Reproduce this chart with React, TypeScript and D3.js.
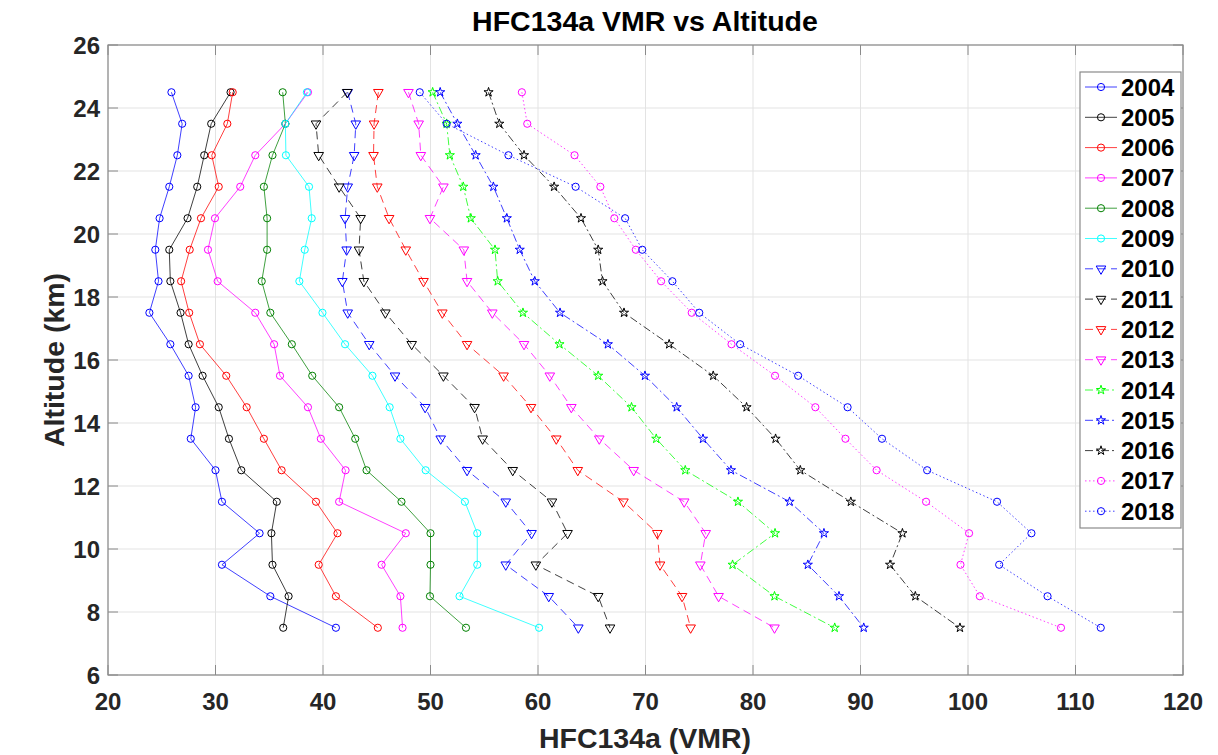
import React from "react";
import * as d3 from "d3";

const altitudes = [24.5, 23.5, 22.5, 21.5, 20.5, 19.5, 18.5, 17.5, 16.5, 15.5, 14.5, 13.5, 12.5, 11.5, 10.5, 9.5, 8.5, 7.5];

const years = ["2004", "2005", "2006", "2007", "2008", "2009", "2010", "2011", "2012", "2013", "2014", "2015", "2016", "2017", "2018"];

const v2004 = [25.9, 26.9, 26.45, 25.7, 24.8, 24.4, 24.7, 23.85, 25.8, 27.5, 28.15, 27.7, 30.0, 30.6, 34.1, 30.6, 35.1, 41.2];
const v2005 = [31.4, 29.6, 28.95, 28.3, 27.4, 25.7, 25.8, 26.75, 27.5, 28.8, 30.3, 31.25, 32.4, 35.7, 35.2, 35.3, 36.8, 36.3];
const v2006 = [31.6, 31.1, 29.65, 30.3, 28.65, 27.6, 26.8, 27.55, 28.55, 31.0, 32.9, 34.5, 36.15, 39.35, 41.35, 39.6, 41.2, 45.1];
const v2007 = [38.6, 36.5, 33.7, 32.3, 29.95, 29.3, 30.2, 33.7, 35.45, 36.0, 38.6, 39.8, 42.1, 41.5, 47.7, 45.45, 47.2, 47.4];
const v2008 = [36.25, 36.5, 35.3, 34.5, 34.8, 34.8, 34.3, 35.1, 37.1, 39.0, 41.5, 43.0, 44.05, 47.3, 50.0, 50.0, 49.95, 53.3];
const v2009 = [38.5, 36.5, 36.55, 38.7, 38.95, 38.3, 37.8, 39.95, 42.05, 44.6, 46.2, 47.2, 49.55, 53.2, 54.35, 54.35, 52.7, 60.1];
const v2010 = [42.3, 43.05, 42.9, 42.3, 42.05, 42.2, 41.8, 42.3, 44.3, 46.7, 49.5, 50.95, 53.4, 57.0, 59.4, 57.0, 61.0, 63.75];
const v2011 = [42.25, 39.35, 39.6, 41.5, 43.5, 43.35, 43.8, 45.8, 48.25, 51.2, 54.1, 54.85, 57.65, 61.3, 62.75, 59.8, 65.6, 66.7];
const v2012 = [45.15, 44.75, 44.7, 45.05, 46.15, 47.7, 49.35, 51.1, 53.4, 56.8, 59.35, 61.7, 63.7, 67.95, 71.1, 71.35, 73.4, 74.2];
const v2013 = [47.95, 48.9, 49.1, 51.2, 49.95, 53.1, 53.4, 55.75, 58.7, 61.1, 63.1, 65.7, 68.9, 73.6, 75.6, 75.1, 76.8, 82.0];
const v2014 = [50.2, 51.5, 51.8, 53.05, 53.75, 56.0, 56.25, 58.6, 62.0, 65.6, 68.7, 71.0, 73.7, 78.6, 82.05, 78.1, 82.0, 87.6];
const v2015 = [50.9, 52.5, 54.2, 55.85, 57.1, 58.3, 59.7, 62.05, 66.5, 69.95, 72.9, 75.35, 77.95, 83.4, 86.6, 85.1, 88.0, 90.3];
const v2016 = [55.4, 56.4, 58.7, 61.5, 64.0, 65.6, 66.0, 68.0, 72.2, 76.3, 79.4, 82.1, 84.4, 89.1, 93.9, 92.75, 95.1, 99.25];
const v2017 = [58.5, 59.0, 63.4, 65.8, 67.1, 69.1, 71.45, 74.3, 78.0, 82.05, 85.8, 88.6, 91.5, 96.1, 100.1, 99.3, 101.1, 108.65];
const v2018 = [49.0, 51.5, 57.25, 63.5, 68.1, 69.7, 72.5, 75.0, 78.8, 84.2, 88.8, 92.0, 96.2, 102.7, 105.9, 102.9, 107.4, 112.35];

const seriesValues = [v2004, v2005, v2006, v2007, v2008, v2009, v2010, v2011, v2012, v2013, v2014, v2015, v2016, v2017, v2018];

const colors = ["#0000ff", "#000000", "#ff0000", "#ff00ff", "#008000", "#00ffff", "#0000ff", "#000000", "#ff0000", "#ff00ff", "#00ff00", "#0000ff", "#000000", "#ff00ff", "#0000ff"];
const dashes = ["", "", "", "", "", "", "8,5", "8,5", "8,5", "8,5", "8,3,2,3", "8,3,2,3", "8,3,2,3", "1.5,2.5", "1.5,2.5"];
const markers = ["o", "o", "o", "o", "o", "o", "v", "v", "v", "v", "p", "p", "p", "o", "o"];

const xTicks = [20, 30, 40, 50, 60, 70, 80, 90, 100, 110, 120];
const yTicks = [6, 8, 10, 12, 14, 16, 18, 20, 22, 24, 26];

const W = 1218;
const H = 755;
const L = 108, R = 1183, T = 45, B = 675;
const FONT = "'Liberation Sans', Arial, sans-serif";

function Marker({ kind, x, y, color }: { kind: string; x: number; y: number; color: string }) {
  if (kind === "o") {
    return <circle cx={x} cy={y} r={3.6} fill="none" stroke={color} strokeWidth={1} />;
  }
  if (kind === "v") {
    const p = d3.symbol().type(d3.symbolTriangle).size(40)();
    return <path d={p || ""} transform={`translate(${x},${y}) rotate(180)`} fill="none" stroke={color} strokeWidth={1} />;
  }
  const p = d3.symbol().type(d3.symbolStar).size(26)();
  return <path d={p || ""} transform={`translate(${x},${y})`} fill="none" stroke={color} strokeWidth={1} />;
}

export default function App() {
  const x = d3.scaleLinear().domain([20, 120]).range([L, R]);
  const y = d3.scaleLinear().domain([6, 26]).range([B, T]);
  const line = d3
    .line<number>()
    .x((d) => x(d))
    .y((_, i) => y(altitudes[i]));

  const legX = 1080, legY = 72, legW = 101, legH = 456;
  const rowH = 30.3;

  return (
    <svg width={W} height={H} style={{ position: "absolute", left: 0, top: 0, background: "#fff" }} fontFamily={FONT}>
      <rect x={0} y={0} width={W} height={H} fill="#fff" />
      {/* grid */}
      {xTicks.map((t) => (
        <line key={"gx" + t} x1={x(t)} x2={x(t)} y1={T} y2={B} stroke="#e3e3e3" strokeWidth={1} />
      ))}
      {yTicks.map((t) => (
        <line key={"gy" + t} x1={L} x2={R} y1={y(t)} y2={y(t)} stroke="#e3e3e3" strokeWidth={1} />
      ))}
      {/* series */}
      {seriesValues.map((vals, si) => (
        <g key={"s" + si}>
          <path d={line(vals) || ""} fill="none" stroke={colors[si]} strokeWidth={1} strokeOpacity={0.75} strokeDasharray={dashes[si]} />
          {vals.map((v, i) => (
            <Marker key={i} kind={markers[si]} x={x(v)} y={y(altitudes[i])} color={colors[si]} />
          ))}
        </g>
      ))}
      {/* axes box */}
      <rect x={L} y={T} width={R - L} height={B - T} fill="none" stroke="#8a8a8a" strokeWidth={1.2} />
      {xTicks.map((t) => (
        <g key={"tx" + t}>
          <line x1={x(t)} x2={x(t)} y1={B} y2={B - 10} stroke="#8a8a8a" />
          <line x1={x(t)} x2={x(t)} y1={T} y2={T + 10} stroke="#8a8a8a" />
          <text x={x(t)} y={710} textAnchor="middle" fontSize={24} fontWeight="bold" fill="#262626">
            {t}
          </text>
        </g>
      ))}
      {yTicks.map((t) => (
        <g key={"ty" + t}>
          <line x1={L} x2={L + 10} y1={y(t)} y2={y(t)} stroke="#8a8a8a" />
          <line x1={R} x2={R - 10} y1={y(t)} y2={y(t)} stroke="#8a8a8a" />
          <text x={100} y={y(t) + 8.5} textAnchor="end" fontSize={24} fontWeight="bold" fill="#262626">
            {t}
          </text>
        </g>
      ))}
      {/* labels */}
      <text x={645} y={31} textAnchor="middle" fontSize={28.5} fontWeight="bold" fill="#000">
        HFC134a VMR vs Altitude
      </text>
      <text x={645} y={748} textAnchor="middle" fontSize={28.5} fontWeight="bold" fill="#262626">
        HFC134a (VMR)
      </text>
      <text transform={`translate(64,${(T + B) / 2}) rotate(-90)`} textAnchor="middle" fontSize={28.5} fontWeight="bold" fill="#262626">
        Altitude (km)
      </text>
      {/* legend */}
      <rect x={legX} y={legY} width={legW} height={legH} fill="#fff" stroke="#8a8a8a" strokeWidth={1.2} />
      {years.map((yr, i) => {
        const cy = legY + 15 + i * rowH;
        return (
          <g key={"l" + yr}>
            <line x1={legX + 5} x2={legX + 37} y1={cy} y2={cy} stroke={colors[i]} strokeWidth={1} strokeOpacity={0.75} strokeDasharray={dashes[i]} />
            <Marker kind={markers[i]} x={legX + 21} y={cy} color={colors[i]} />
            <text x={legX + 41} y={cy + 8.5} fontSize={24} fontWeight="bold" fill="#000">
              {yr}
            </text>
          </g>
        );
      })}
    </svg>
  );
}
